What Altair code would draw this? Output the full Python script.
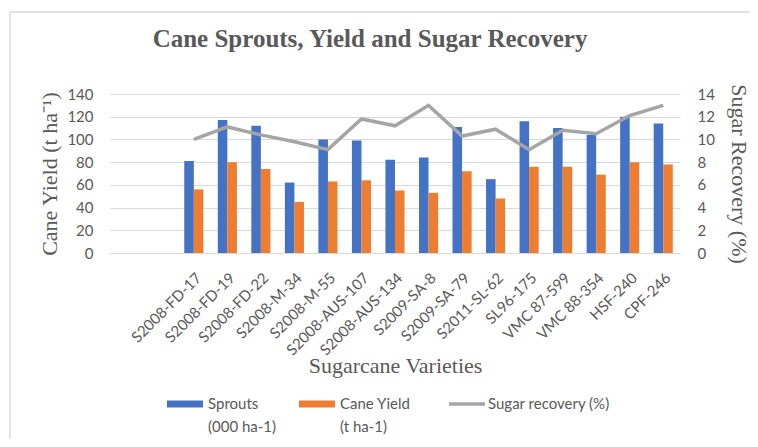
import altair as alt
import pandas as pd

# ---- data ----
varieties = ["S2008-FD-17", "S2008-FD-19", "S2008-FD-22", "S2008-M-34", "S2008-M-55",
             "S2008-AUS-107", "S2008-AUS-134", "S2009-SA-8", "S2009-SA-79", "S2011-SL-62",
             "SL96-175", "VMC 87-599", "VMC 88-354", "HSF-240", "CPF-246"]
sprouts = [81, 117, 112, 62, 100, 99, 82, 84, 111, 65, 116, 110, 104, 120, 114]
cane_yield = [56, 80, 74, 45, 63, 64, 55, 53, 72, 48, 76, 76, 69, 80, 78]
sugar_recovery = [10.0, 11.1, 10.4, 9.8, 9.1, 11.8, 11.2, 13.0, 10.3, 10.9, 9.1, 10.8, 10.5, 12.1, 13.0]
blank_slots = ["_blank1", "_blank2"]          # two empty category slots before the data
series_names = ["Sprouts|(000 ha-1)", "Cane Yield|(t ha-1)"]
line_name = "Sugar recovery (%)"
left_ticks = [0, 20, 40, 60, 80, 100, 120, 140]
right_ticks = [0, 2, 4, 6, 8, 10, 12, 14]

BLUE, ORANGE, GRAY = "#4472C4", "#ED7D31", "#A5A5A5"
TXT = "#595959"
GRID = "#D9D9D9"
SANS = "Lato"
SERIF = "Liberation Serif"

bars_df = pd.DataFrame({
    "variety": varieties * 2,
    "series": [series_names[0]] * len(varieties) + [series_names[1]] * len(varieties),
    "value": sprouts + cane_yield,
})
line_df = pd.DataFrame({"variety": varieties, "sugar": sugar_recovery, "name": line_name})

x_enc = alt.X(
    "variety:N",
    sort=None,
    scale=alt.Scale(domain=blank_slots + varieties, paddingInner=0.43, paddingOuter=0.215),
    axis=alt.Axis(
        title="Sugarcane Varieties", titleFont=SERIF, titleFontSize=22, titleFontWeight="normal",
        titleColor=TXT, titleY=119, titleBaseline="alphabetic",
        labelExpr="indexof(['_blank1','_blank2'], datum.value) >= 0 ? '' : datum.value",
        labelAngle=-45, labelFont=SANS, labelFontSize=15, labelColor=TXT, labelPadding=17,
        ticks=False, domainColor=GRID, domainWidth=1, labelOverlap=False,
    ),
)

bars = alt.Chart(bars_df).mark_bar().encode(
    x=x_enc,
    xOffset=alt.XOffset("series:N", sort=series_names,
                        scale=alt.Scale(domain=series_names, paddingInner=0, paddingOuter=0)),
    y=alt.Y("value:Q",
            scale=alt.Scale(domain=[0, 140]),
            axis=alt.Axis(values=left_ticks, title="Cane Yield (t ha⁻¹)", titleFont=SERIF,
                          titleFontSize=22, titleFontWeight="normal", titleColor=TXT,
                          titleX=-61, titleBaseline="middle",
                          labelFont=SANS, labelFontSize=15, labelColor=TXT, labelPadding=17,
                          ticks=False, domain=False, grid=True, gridColor=GRID, gridWidth=1)),
    color=alt.Color("series:N",
                    scale=alt.Scale(domain=series_names, range=[BLUE, ORANGE]),
                    legend=alt.Legend(orient="none", legendX=57, legendY=292, direction="horizontal",
                                      title=None, symbolType="M-1,-0.2H1V0.2H-1Z", symbolSize=1296,
                                      symbolStrokeWidth=0, labelExpr="split(datum.label, '|')",
                                      labelOffset=5, columnPadding=22, labelFont=SANS,
                                      labelFontSize=15, labelColor=TXT, labelLimit=200)),
)

line = alt.Chart(line_df).mark_line(strokeWidth=3.5).encode(
    x=x_enc,
    y=alt.Y("sugar:Q",
            scale=alt.Scale(domain=[0, 14]),
            axis=alt.Axis(orient="right", values=right_ticks, title="Sugar Recovery (%)",
                          titleFont=SERIF, titleFontSize=22, titleFontWeight="normal",
                          titleColor=TXT, titleX=58, titleBaseline="middle",
                          labelFont=SANS, labelFontSize=15, labelColor=TXT, labelPadding=17,
                          ticks=False, domain=False, grid=False)),
    stroke=alt.Stroke("name:N",
                      scale=alt.Scale(domain=[line_name], range=[GRAY]),
                      legend=alt.Legend(orient="none", legendX=337, legendY=290, title=None,
                                        symbolType="stroke", symbolSize=1296, symbolStrokeWidth=3.5,
                                        labelOffset=1, labelFont=SANS, labelFontSize=15,
                                        labelColor=TXT, labelLimit=200)),
)

frame_df = pd.DataFrame({"k": [0]})
border_left = alt.Chart(frame_df).mark_rule(color=GRID, strokeWidth=1.5, clip=False).encode(
    x=alt.value(-100), y=alt.value(-82), y2=alt.value(345))
border_top = alt.Chart(frame_df).mark_rule(color=GRID, strokeWidth=1.5, clip=False).encode(
    x=alt.value(-100), x2=alt.value(648), y=alt.value(-82))

chart = alt.layer(border_left, border_top, bars, line).resolve_scale(
    y="independent", color="independent", stroke="independent"
).properties(
    width=570,
    height=159,
    autosize=alt.AutoSizeParams(type="none"),
    padding={"left": 102, "top": 86, "right": 70, "bottom": 186},
    title=alt.Title("Cane Sprouts, Yield and Sugar Recovery", font=SERIF, fontSize=25,
                    fontWeight="bold", color=TXT, anchor="middle", frame="group",
                    baseline="alphabetic", offset=0, dy=61, dx=-25),
).configure_view(stroke=None)
chart.config.style = {"guide-label": {"lineHeight": 23}}

chart.save("out.html", embed_options={"renderer": "svg", "actions": False})
